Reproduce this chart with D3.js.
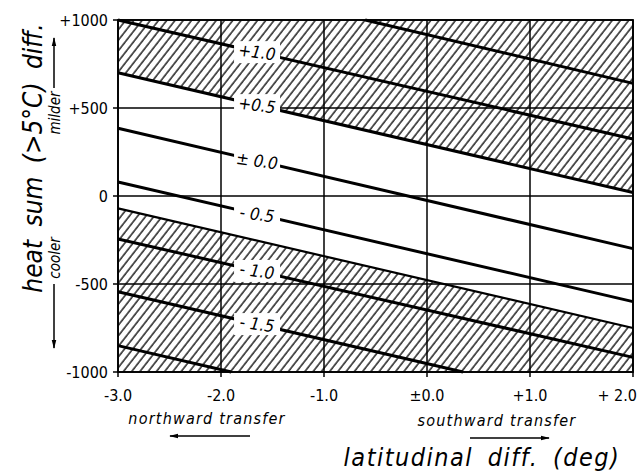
<!DOCTYPE html>
<html><head><meta charset="utf-8">
<script src="https://cdn.jsdelivr.net/npm/d3@7"></script>
<style>body{margin:0;background:#fff}svg{display:block}</style>
</head><body>
<svg id="c" width="639" height="472"></svg>
<script>
// ---- data ----
const xTicks = [-3, -2, -1, 0, 1, 2];
const xTickLabels = ["-3.0", "-2.0", "-1.0", "±0.0", "+1.0", "+ 2.0"];
const yTicks = [1000, 500, 0, -500, -1000];
const yTickLabels = ["+1000", "+500", "0", "-500", "-1000"];
// contour lines: [lat, heat] endpoints
const lineNames = ["+1.5", "+1.0", "+0.5", "±0.0", "-0.5", "-1.0", "-1.5", "-2.0"];
const lineStart = [[-0.6, 1000], [-3, 1000], [-3, 700], [-3, 385], [-3, 80], [-3, -244], [-3, -544], [-3, -850]];
const lineEnd   = [[2, 640], [2, 324], [2, 20], [2, -299], [2, -600], [2, -917], [0.35, -1000], [-1.9, -1000]];
const lineLabels = ["", "+1.0", "+0.5", "± 0.0", "- 0.5", "- 1.0", "- 1.5", ""];
const labelLat = -1.65;
// boundary of the lower hatched zone
const hatchBoundStart = [-3, -70];
const hatchBoundEnd = [2, -750];

// ---- layout ----
const svg = d3.select("#c");
const x = d3.scaleLinear().domain([-3, 2]).range([118, 633]);
const y = d3.scaleLinear().domain([-1000, 1000]).range([372, 20]);
const font = "'DejaVu Sans Condensed','DejaVu Sans',sans-serif";

const defs = svg.append("defs");
const pat = defs.append("pattern").attr("id", "hatch")
  .attr("patternUnits", "userSpaceOnUse").attr("width", 6.5).attr("height", 10)
  .attr("patternTransform", "rotate(38)");
pat.append("line").attr("x1", 1).attr("y1", -2).attr("x2", 1).attr("y2", 12)
  .attr("stroke", "#000").attr("stroke-width", 1.3);
defs.append("marker").attr("id", "arr").attr("viewBox", "0 0 10 10")
  .attr("refX", 9).attr("refY", 5).attr("markerWidth", 9).attr("markerHeight", 9)
  .attr("markerUnits", "userSpaceOnUse").attr("orient", "auto")
  .append("path").attr("d", "M0,2.5 L10,5 L0,7.5 Z").attr("fill", "#000");

const [xd0, xd1] = x.domain(), [yd0, yd1] = y.domain();
const upper = lineStart[2], upperEnd = lineEnd[2];
const polyUp = [[xd0, yd1], [xd1, yd1], upperEnd, upper];
const polyLow = [hatchBoundStart, hatchBoundEnd, [xd1, yd0], [xd0, yd0]];
const pl = d3.line().x(d => x(d[0])).y(d => y(d[1]));
[polyUp, polyLow].forEach(p => {
  svg.append("path").attr("d", pl(p) + "Z").attr("fill", "url(#hatch)");
});

// grid
const g = svg.append("g").attr("stroke", "#000").attr("stroke-width", 1.5);
xTicks.forEach(t => g.append("line").attr("x1", x(t)).attr("x2", x(t)).attr("y1", y(yd1)).attr("y2", y(yd0) + 5));
yTicks.forEach(t => g.append("line").attr("x1", x(xd0) - 5).attr("x2", x(xd1)).attr("y1", y(t)).attr("y2", y(t)));

// contour lines
lineStart.forEach((s, i) => {
  svg.append("path").attr("d", pl([s, lineEnd[i]])).attr("stroke", "#000")
    .attr("stroke-width", 3).attr("fill", "none");
});
svg.append("path").attr("d", pl([hatchBoundStart, hatchBoundEnd])).attr("stroke", "#000")
  .attr("stroke-width", 2.2).attr("fill", "none");

// labels with gap
lineLabels.forEach((lab, i) => {
  if (!lab) return;
  const s = lineStart[i], e = lineEnd[i];
  const hv = s[1] + (e[1] - s[1]) * (labelLat - s[0]) / (e[0] - s[0]);
  const cx = x(labelLat), cy = y(hv);
  svg.append("rect").attr("x", cx - 23).attr("y", cy - 11).attr("width", 46).attr("height", 22).attr("fill", "#fff");
  svg.append("text").attr("x", cx).attr("y", cy + 6).attr("text-anchor", "middle")
    .attr("font-family", font).attr("font-style", "italic").attr("font-size", 17)
    .attr("transform", `rotate(8,${cx},${cy})`).text(lab);
});

// frame
svg.append("rect").attr("x", x(xd0)).attr("y", y(yd1)).attr("width", x(xd1) - x(xd0))
  .attr("height", y(yd0) - y(yd1)).attr("fill", "none").attr("stroke", "#000").attr("stroke-width", 1.8);

// tick labels
yTicks.forEach((t, i) => svg.append("text").attr("x", 108).attr("y", y(t) + 6)
  .attr("text-anchor", "end").attr("font-family", font).attr("font-size", 16).text(yTickLabels[i]));
xTicks.forEach((t, i) => svg.append("text").attr("x", i === 5 ? 637 : x(t)).attr("y", 401)
  .attr("text-anchor", i === 5 ? "end" : "middle").attr("font-family", font).attr("font-size", 16).text(xTickLabels[i]));

// axis titles
svg.append("text").attr("transform", "translate(42,158) rotate(-90)").attr("text-anchor", "middle")
  .attr("font-family", font).attr("font-style", "italic").attr("font-size", 26)
  .attr("word-spacing", 6).text("heat sum (>5°C) diff.");
svg.append("text").attr("transform", "translate(60,113) rotate(-90)").attr("text-anchor", "middle")
  .attr("font-family", font).attr("font-style", "italic").attr("font-size", 15).text("milder");
svg.append("line").attr("x1", 54).attr("x2", 54).attr("y1", 88).attr("y2", 38)
  .attr("stroke", "#000").attr("stroke-width", 1.5).attr("marker-end", "url(#arr)");
svg.append("text").attr("transform", "translate(60,258) rotate(-90)").attr("text-anchor", "middle")
  .attr("font-family", font).attr("font-style", "italic").attr("font-size", 15).text("cooler");
svg.append("line").attr("x1", 54).attr("x2", 54).attr("y1", 284).attr("y2", 348)
  .attr("stroke", "#000").attr("stroke-width", 1.5).attr("marker-end", "url(#arr)");

svg.append("text").attr("x", 207).attr("y", 424).attr("text-anchor", "middle")
  .attr("font-family", font).attr("font-style", "italic").attr("font-size", 16)
  .attr("letter-spacing", 1.2).text("northward transfer");
svg.append("line").attr("x1", 250).attr("x2", 170).attr("y1", 436).attr("y2", 436)
  .attr("stroke", "#000").attr("stroke-width", 1.5).attr("marker-end", "url(#arr)");
svg.append("text").attr("x", 497).attr("y", 426).attr("text-anchor", "middle")
  .attr("font-family", font).attr("font-style", "italic").attr("font-size", 16)
  .attr("letter-spacing", 1.2).text("southward transfer");
svg.append("line").attr("x1", 470).attr("x2", 549).attr("y1", 438).attr("y2", 438)
  .attr("stroke", "#000").attr("stroke-width", 1.5).attr("marker-end", "url(#arr)");
svg.append("text").attr("x", 482).attr("y", 466).attr("text-anchor", "middle")
  .attr("font-family", font).attr("font-style", "italic").attr("font-size", 25)
  .attr("letter-spacing", 1.5).attr("word-spacing", 6).text("latitudinal diff. (deg)");
</script>
</body></html>
